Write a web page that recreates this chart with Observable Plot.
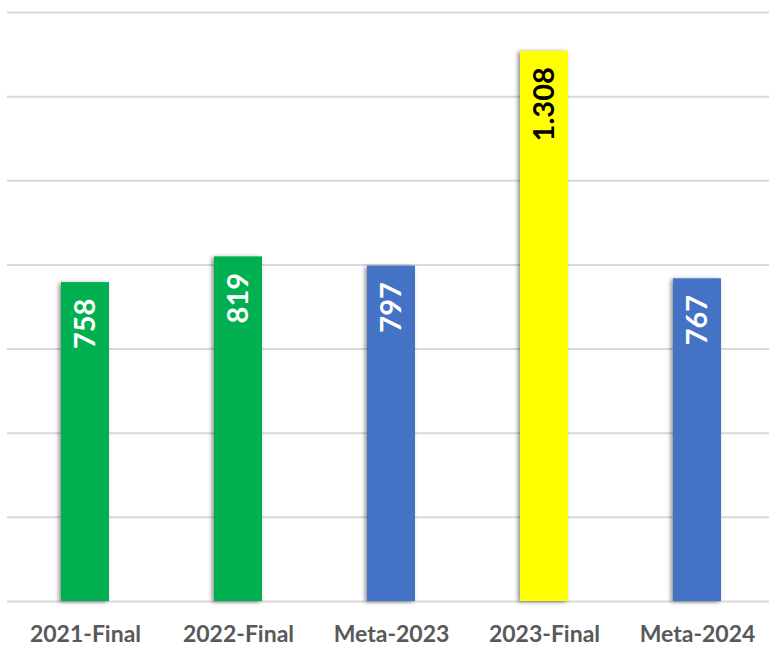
<!DOCTYPE html>
<html>
<head>
<meta charset="utf-8">
<script src="https://cdn.jsdelivr.net/npm/d3@7"></script>
<script src="https://cdn.jsdelivr.net/npm/@observablehq/plot@0.6"></script>
<style>
  html, body { margin: 0; padding: 0; background: #fff; }
  #chart svg { display: block; }
</style>
</head>
<body>
<div id="chart"></div>
<script>
const categories = ["2021-Final", "2022-Final", "Meta-2023", "2023-Final", "Meta-2024"];
const values = [758, 819, 797, 1308, 767];
const labels = ["758", "819", "797", "1.308", "767"];
const barColors = ["#00B050", "#00B050", "#4472C4", "#FFFF00", "#4472C4"];
const labelColors = ["#FFFFFF", "#FFFFFF", "#FFFFFF", "#000000", "#FFFFFF"];
const gridTicks = [0, 200, 400, 600, 800, 1000, 1200, 1400];

const data = categories.map((c, i) => ({category: c, value: values[i], label: labels[i], i}));

const chart = Plot.plot({
  width: 769,
  height: 646,
  marginTop: 12,
  marginBottom: 45,
  marginLeft: 7,
  marginRight: -6,
  style: {fontFamily: "Lato, 'Open Sans', sans-serif", background: "#fff"},
  x: {domain: categories, paddingInner: 0.687, paddingOuter: 0.3435, label: null},
  y: {domain: [0, 1400], label: null, axis: null},
  color: {domain: categories, range: barColors},
  marks: [
    Plot.ruleY(gridTicks, {stroke: "#d9d9d9", strokeWidth: 2}),
    Plot.barY(data, {x: "category", y: "value", fill: "category"}),
    Plot.text(data, {
      x: "category", y: "value", text: "label",
      rotate: -90, textAnchor: "end", dy: 16,
      fill: d => labelColors[d.i],
      fontSize: 29, fontWeight: "bold"
    }),
    Plot.axisX({tickSize: 0, tickPadding: 24, fontSize: 23, fontWeight: "bold", fill: "#595959", label: null})
  ]
});

document.getElementById("chart").appendChild(chart);
d3.select(chart).selectAll("rect").style("filter", "drop-shadow(-2px 1px 2px rgba(0,0,0,0.45))");
</script>
</body>
</html>
